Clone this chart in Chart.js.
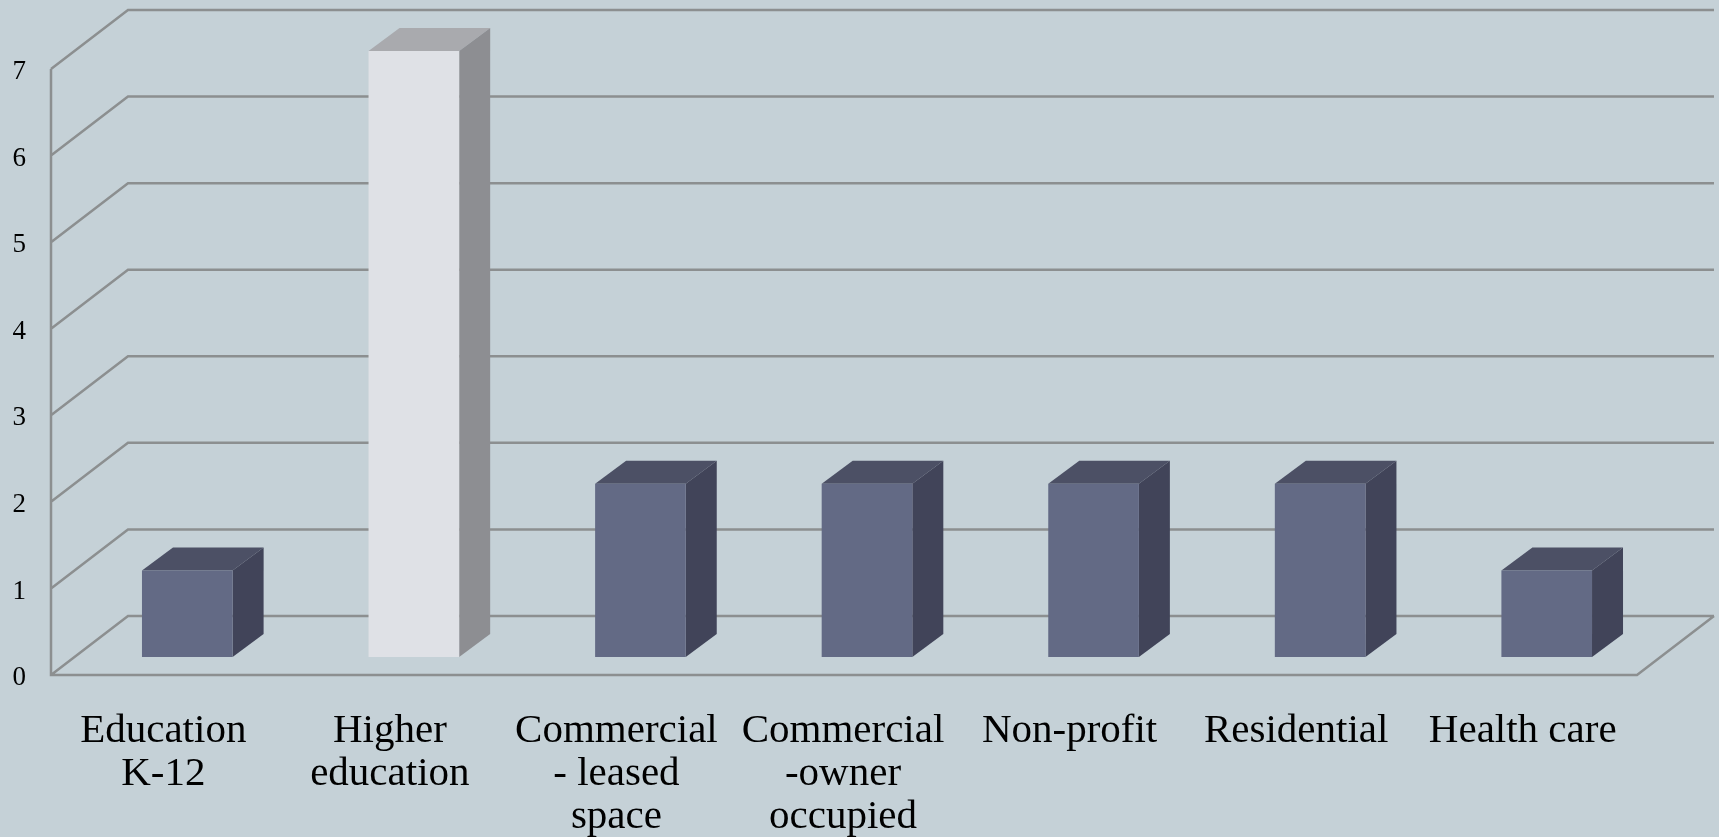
<!DOCTYPE html>
<html>
<head>
<meta charset="utf-8">
<title>Chart</title>
<style>
    html, body { margin: 0; padding: 0; background: #c5d1d7; overflow: hidden; }
    canvas { display: block; }
</style>
<script src="https://cdn.jsdelivr.net/npm/chart.js@4"></script>
</head>
<body>
<canvas id="sectorChart" width="1719" height="837"></canvas>
<script>
const categories = [
    ['Education', 'K-12'],
    ['Higher', 'education'],
    ['Commercial', '- leased', 'space'],
    ['Commercial', '-owner', 'occupied'],
    'Non-profit',
    'Residential',
    'Health care'
];
const values = [1, 7, 2, 2, 2, 2, 1];
const yTicks = [0, 1, 2, 3, 4, 5, 6, 7];
const highlightIndex = 1;

const gridColor = '#8c8f90';
const normalFaces = { front: '#636a85', top: '#4c5065', side: '#414459' };
const highlightFaces = { front: '#dfe1e6', top: '#a9aaae', side: '#8d8e92' };

// bars stand on a plane between the front edge and the back wall of the floor
const toFront = { x: -23, y: 18 };
const toBack = { x: 54, y: -41 };
const barDepth = { x: 31, y: -23 };

const facesFor = i => (i === highlightIndex ? highlightFaces : normalFaces);

const polygon = (ctx, points, color) => {
    ctx.fillStyle = color;
    ctx.beginPath();
    points.forEach((p, i) => (i ? ctx.lineTo(p[0], p[1]) : ctx.moveTo(p[0], p[1])));
    ctx.closePath();
    ctx.fill();
};

const wallAndBars = {
    id: 'wallAndBars',
    beforeDatasetsDraw(chart) {
        const { ctx, chartArea, scales } = chart;
        const frontL = chartArea.left + toFront.x;
        const frontR = chartArea.right + toFront.x;
        const backL = chartArea.left + toBack.x;
        const backR = chartArea.right + toBack.x;

        ctx.save();
        ctx.strokeStyle = gridColor;
        ctx.lineWidth = 2.5;
        ctx.beginPath();
        yTicks.forEach(v => {
            const y = scales.y.getPixelForValue(v);
            ctx.moveTo(frontL, y + toFront.y);
            ctx.lineTo(backL, y + toBack.y);
            ctx.lineTo(backR, y + toBack.y);
        });
        // axis line and the floor outline
        const y0 = scales.y.getPixelForValue(0);
        const y7 = scales.y.getPixelForValue(7);
        ctx.moveTo(frontL, y7 + toFront.y);
        ctx.lineTo(frontL, y0 + toFront.y);
        ctx.lineTo(frontR, y0 + toFront.y);
        ctx.lineTo(backR, y0 + toBack.y);
        ctx.stroke();

        chart.getDatasetMeta(0).data.forEach((bar, i) => {
            const faces = facesFor(i);
            const left = bar.x - bar.width / 2;
            const right = bar.x + bar.width / 2;
            polygon(ctx, [
                [left, bar.y],
                [left + barDepth.x, bar.y + barDepth.y],
                [right + barDepth.x, bar.y + barDepth.y],
                [right, bar.y]
            ], faces.top);
            polygon(ctx, [
                [right, bar.y],
                [right + barDepth.x, bar.y + barDepth.y],
                [right + barDepth.x, bar.base + barDepth.y],
                [right, bar.base]
            ], faces.side);
        });
        ctx.restore();
    }
};

new Chart(document.getElementById('sectorChart'), {
    type: 'bar',
    data: {
        labels: categories,
        datasets: [{
            data: values,
            backgroundColor: values.map((v, i) => facesFor(i).front),
            categoryPercentage: 1,
            barPercentage: 0.4
        }]
    },
    options: {
        responsive: false,
        animation: false,
        layout: { padding: { top: 51, right: 59, bottom: 0, left: 0 } },
        plugins: {
            legend: { display: false },
            title: { display: false },
            tooltip: { enabled: false }
        },
        scales: {
            x: {
                grid: { display: false, drawTicks: false },
                border: { display: false },
                afterFit: scale => { scale.height = 180; scale.paddingLeft = 0; scale.paddingRight = 0; },
                ticks: {
                    autoSkip: false,
                    maxRotation: 0,
                    minRotation: 0,
                    padding: 53,
                    labelOffset: toFront.x - 1,
                    color: '#000000',
                    font: { family: '"Liberation Serif", serif', size: 41, lineHeight: 1.05 }
                }
            },
            y: {
                min: 0,
                max: 7,
                grid: { display: false, drawTicks: false },
                border: { display: false },
                afterFit: scale => { scale.width = 74; scale.paddingTop = 0; scale.paddingBottom = 0; },
                ticks: {
                    stepSize: 1,
                    padding: 48,
                    labelOffset: toFront.y + 3,
                    color: '#000000',
                    font: { family: '"Liberation Serif", serif', size: 27 }
                }
            }
        }
    },
    plugins: [wallAndBars]
});
</script>
</body>
</html>
